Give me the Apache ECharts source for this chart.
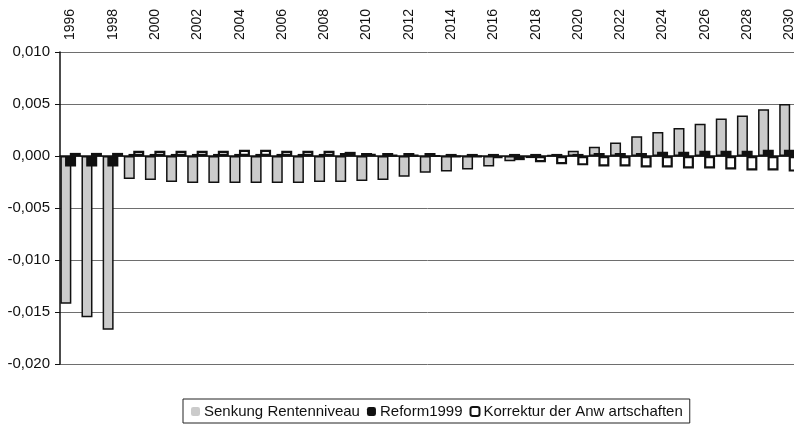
<!DOCTYPE html>
<html>
<head>
<meta charset="utf-8">
<script src="https://cdn.jsdelivr.net/npm/echarts@6/dist/echarts.min.js"></script>
<style>
  html, body { margin: 0; padding: 0; background: #fff; }
  #chart { width: 794px; height: 425px; }
</style>
</head>
<body>
<div id="chart"></div>
<script>
// Jahre 1996 bis 2030
const years = [];
for (let y = 1996; y <= 2030; y++) years.push(String(y));

const senkungRentenniveau = [
  -0.0142, -0.0155, -0.0167, -0.0022, -0.0023, -0.0025, -0.0026, -0.0026,
  -0.0026, -0.0026, -0.0026, -0.0026, -0.0025, -0.0025, -0.0024, -0.0023,
  -0.0020, -0.0016, -0.0015, -0.0013, -0.0010, -0.0005, -0.0002, 0.0001,
  0.0005, 0.0009, 0.0013, 0.0019, 0.0023, 0.0027, 0.0031, 0.0036,
  0.0039, 0.0045, 0.0050
];

const reform1999 = [
  -0.0010, -0.0010, -0.0010, 0.0002, 0.0002, 0.0002, 0.0002, 0.0002,
  0.0002, 0.0002, 0.0002, 0.0002, 0.0002, 0.0003, 0.0003, 0.0003,
  0.0003, 0.0003, 0.0002, 0.0002, 0.0002, 0.0002, 0.0002, 0.0002,
  0.0002, 0.0003, 0.0003, 0.0003, 0.0004, 0.0004, 0.0005, 0.0005,
  0.0005, 0.0006, 0.0006
];

const korrekturAnwartschaften = [
  0.0003, 0.0003, 0.0003, 0.0005, 0.0005, 0.0005, 0.0005, 0.0005,
  0.0006, 0.0006, 0.0005, 0.0005, 0.0005, 0.0004, 0.0002, 0.0001,
  0.0001, 0.0000, -0.0001, -0.0001, -0.0002, -0.0004, -0.0006, -0.0008,
  -0.0009, -0.0010, -0.0010, -0.0011, -0.0011, -0.0012, -0.0012, -0.0013,
  -0.0014, -0.0014, -0.0015
];

const seriesNames = ['Senkung Rentenniveau', 'Reform1999', 'Korrektur der Anw artschaften'];

const font = 'Liberation Sans, Arial, sans-serif';
const chart = echarts.init(document.getElementById('chart'), null, { renderer: 'canvas' });

const grayFill = '#cbcbcb';
const ink = '#111';

chart.setOption({
  animation: false,
  backgroundColor: '#fff',
  textStyle: { fontFamily: font },
  grid: {
    left: 60, width: 740, top: 52, bottom: 61,
    containLabel: false,
    outerBoundsMode: 'none'
  },
  legend: {
    bottom: 2,
    left: 183,
    data: [
      { name: seriesNames[0], itemStyle: { color: grayFill, borderWidth: 0 } },
      { name: seriesNames[1], itemStyle: { color: ink, borderWidth: 0 } },
      { name: seriesNames[2], itemStyle: { color: '#fff', borderColor: ink, borderWidth: 2 } }
    ],
    itemWidth: 9,
    itemHeight: 9,
    itemGap: 7,
    padding: [5, 7, 4, 8],
    borderColor: '#222',
    borderWidth: 1,
    borderRadius: 0,
    textStyle: { fontFamily: font, fontSize: 15, color: ink, padding: [0, 0, 0, -1] }
  },
  xAxis: [
    {
      type: 'category',
      data: years,
      position: 'top',
      axisLine: { show: false, onZero: false },
      axisTick: { show: false },
      axisLabel: {
        interval: 1,
        rotate: -90,
        margin: 12,
        fontSize: 14,
        color: ink,
        fontFamily: font
      },
      splitLine: { show: false }
    },
    {
      // Nulllinie
      type: 'category',
      data: years,
      position: 'bottom',
      axisLine: { show: true, onZero: true, lineStyle: { color: ink, width: 1.5 } },
      axisTick: { show: false },
      axisLabel: { show: false },
      splitLine: { show: false }
    }
  ],
  yAxis: {
    type: 'value',
    min: -0.02,
    max: 0.01,
    interval: 0.005,
    axisLine: { show: true, lineStyle: { color: ink, width: 1.5 } },
    axisTick: { show: true, inside: false, length: 5, lineStyle: { color: ink } },
    axisLabel: {
      margin: 10,
      fontSize: 15,
      color: ink,
      fontFamily: font,
      formatter: v => v.toFixed(3).replace('.', ',')
    },
    splitLine: { show: true, lineStyle: { color: '#6e6e6e', width: 1 } }
  },
  series: [
    {
      name: seriesNames[0],
      type: 'bar',
      data: senkungRentenniveau,
      barWidth: 11,
      barGap: '-57%',
      itemStyle: { color: grayFill, borderColor: ink, borderWidth: 1.5 },
      z: 2
    },
    {
      name: seriesNames[1],
      type: 'bar',
      data: reform1999,
      barWidth: 11,
      barGap: '-57%',
      itemStyle: { color: ink, borderColor: ink, borderWidth: 1.5 },
      z: 3
    },
    {
      name: seriesNames[2],
      type: 'bar',
      data: korrekturAnwartschaften,
      barWidth: 11,
      barGap: '-57%',
      itemStyle: { color: '#fff', borderColor: ink, borderWidth: 2.2 },
      z: 4
    }
  ]
});
</script>
</body>
</html>
